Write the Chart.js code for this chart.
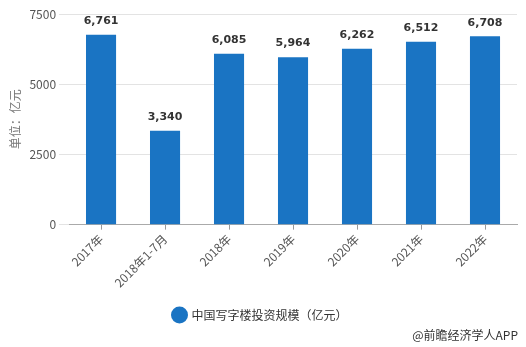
<!DOCTYPE html>
<html>
<head>
<meta charset="utf-8">
<script src="https://cdn.jsdelivr.net/npm/chart.js@4/dist/chart.umd.min.js"></script>
<style>
  html, body { margin: 0; padding: 0; background: #fff; }
  #wrap { position: relative; width: 526px; height: 347px; }
  #credit { position: absolute; right: 8px; top: 326px; font: 12px "Noto Sans CJK SC", sans-serif; color: #333; }
</style>
</head>
<body>
<div id="wrap">
  <canvas id="c" width="526" height="347"></canvas>
  <div id="credit">@前瞻经济学人APP</div>
</div>
<script>
// Office building investment in China (100 million yuan)
const categories = ['2017年', '2018年1-7月', '2018年', '2019年', '2020年', '2021年', '2022年'];
const investment = [6761, 3340, 6085, 5964, 6262, 6512, 6708];
const yTicks = [0, 2500, 5000, 7500];
const seriesName = '中国写字楼投资规模（亿元）';
const yTitle = '单位：亿元';

const CJK = '"Noto Sans CJK SC", "Noto Sans", sans-serif';

// Draws the value above each bar
const valueLabels = {
  id: 'valueLabels',
  afterDatasetsDraw(chart) {
    const { ctx } = chart;
    const meta = chart.getDatasetMeta(0);
    ctx.save();
    ctx.font = 'bold 11px "DejaVu Sans", sans-serif';
    ctx.fillStyle = '#333';
    ctx.textAlign = 'center';
    ctx.textBaseline = 'bottom';
    meta.data.forEach((bar, i) => {
      ctx.fillText(investment[i].toLocaleString('en-US'), bar.x, bar.y - 8);
    });
    ctx.restore();
  }
};

new Chart(document.getElementById('c'), {
  type: 'bar',
  data: {
    labels: categories,
    datasets: [{
      label: seriesName,
      data: investment,
      backgroundColor: '#1a74c3',
      barPercentage: 0.47,
      categoryPercentage: 1
    }]
  },
  options: {
    responsive: false,
    animation: false,
    layout: { padding: { top: 14, right: 9, left: 4, bottom: 16 } },
    plugins: {
      legend: {
        position: 'bottom',
        labels: {
          usePointStyle: true,
          pointStyle: 'circle',
          boxWidth: 12,
          boxHeight: 12,
          padding: 17,
          color: '#333',
          font: { family: CJK, size: 12 }
        }
      },
      tooltip: { enabled: false }
    },
    scales: {
      x: {
        offset: true,
        grid: {
          offset: false,
          drawOnChartArea: false,
          drawTicks: true,
          tickLength: 5,
          color: '#999'
        },
        border: { color: '#aaa' },
        ticks: {
          minRotation: 45,
          maxRotation: 45,
          color: '#555',
          padding: 2,
          font: { family: CJK, size: 12 }
        }
      },
      y: {
        min: 0,
        max: 7500,
        afterBuildTicks(axis) { axis.ticks = yTicks.map(v => ({ value: v })); },
        grid: { color: '#e3e3e3', drawTicks: true, tickLength: 10 },
        border: { display: false },
        ticks: {
          color: '#555',
          padding: 3,
          font: { family: CJK, size: 12 },
          callback: v => String(v)
        },
        title: {
          display: true,
          text: yTitle,
          color: '#777',
          padding: 4,
          font: { family: CJK, size: 12 }
        }
      }
    }
  },
  plugins: [valueLabels]
});
</script>
</body>
</html>
